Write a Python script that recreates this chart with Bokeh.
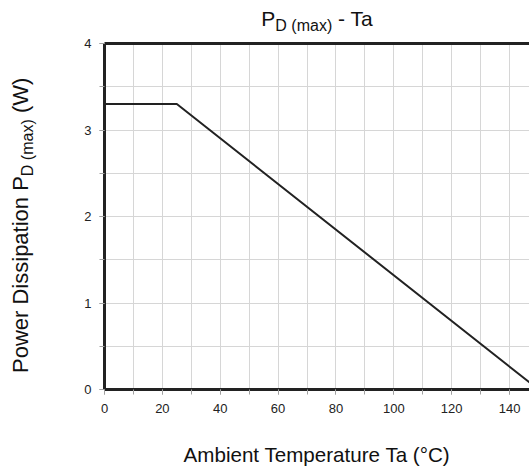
from bokeh.plotting import figure
from bokeh.models import Range1d, FixedTicker, LinearAxis, Div
from bokeh.layouts import column, row
from bokeh.embed import file_html
from bokeh.resources import INLINE

# ---- data ----
temp_c = [0, 25, 150]
pd_max_w = [3.3, 3.3, 0.0]
x_major = [0, 20, 40, 60, 80, 100, 120, 140]
x_minor = [0, 10, 20, 30, 40, 50, 60, 70, 80, 90, 100, 110, 120, 130, 140, 150]
y_major = [0, 1, 2, 3, 4]
y_minor = [0, 0.5, 1, 1.5, 2, 2.5, 3, 3.5, 4]
title_main, title_sub, title_tail = "P", "D (max)", " - Ta"
ylab_main, ylab_sub, ylab_tail = "Power Dissipation P", "D (max)", " (W)"
xlab = "Ambient Temperature Ta (°C)"

FONT = "Liberation Sans"
GRID = "#d6d6d6"
TICK = "#a0a0a0"
BORDER = "#222222"
TXT = "#111111"

TOP_H = 34
FIG_H = 434

p = figure(width=485, height=FIG_H, x_range=Range1d(0, 146.9), y_range=Range1d(0, 4),
           output_backend="svg", toolbar_location=None, margin=(0, 0, 0, 0),
           min_border_left=60, min_border_right=0, min_border_top=9, min_border_bottom=79)
p.outline_line_color = None

p.xaxis.ticker = FixedTicker(ticks=x_major, minor_ticks=x_minor)
p.yaxis.ticker = FixedTicker(ticks=y_major, minor_ticks=y_minor)
for ax in (p.xaxis[0], p.yaxis[0]):
    ax.axis_line_color = BORDER
    ax.axis_line_width = 3
    ax.major_tick_line_color = TICK
    ax.minor_tick_line_color = TICK
    ax.major_tick_in = 0
    ax.major_tick_out = 5
    ax.minor_tick_in = 0
    ax.minor_tick_out = 5
    ax.major_label_text_font = FONT
    ax.major_label_text_font_size = "13px"
    ax.major_label_text_color = "#222222"
p.xaxis.major_label_standoff = 9
p.yaxis.major_label_standoff = 8
p.xaxis.axis_label = xlab
p.xaxis.axis_label_text_font = FONT
p.xaxis.axis_label_text_font_size = "20.6px"
p.xaxis.axis_label_text_font_style = "normal"
p.xaxis.axis_label_text_color = TXT
p.xaxis.axis_label_standoff = 27

top = LinearAxis(ticker=FixedTicker(ticks=[]), major_label_text_font_size="0px",
                 major_label_standoff=0, major_tick_out=0, major_tick_in=0,
                 axis_line_color=BORDER, axis_line_width=3,
                 major_tick_line_color=None, minor_tick_line_color=None)
p.add_layout(top, "above")

p.xgrid.ticker = FixedTicker(ticks=x_major, minor_ticks=x_minor)
p.ygrid.ticker = FixedTicker(ticks=y_major, minor_ticks=y_minor)
for g in (p.xgrid[0], p.ygrid[0]):
    g.grid_line_color = GRID
    g.grid_line_width = 1
    g.minor_grid_line_color = GRID
    g.minor_grid_line_width = 1

p.line(temp_c, pd_max_w, line_color="#222222", line_width=2)


def css(size):
    return (f"font-family:'{FONT}'; font-size:{size}px; line-height:24px; color:{TXT}; "
            "white-space:nowrap; margin:0;")


def sub_css(size):
    return f"font-size:{size}px; line-height:0;"


title_div = Div(width=529, height=TOP_H, margin=(0, 0, 0, 0), styles={"overflow": "visible"}, text=(
    f'<div style="{css(21)} box-sizing:border-box; width:529px; padding-left:105px; '
    f'padding-top:7px; text-align:center;">{title_main}<sub style="{sub_css(16)}">{title_sub}</sub>'
    f'{title_tail}</div>'))

ylab_div = Div(width=44, height=FIG_H, margin=(0, 0, 0, 0), styles={"overflow": "visible"}, text=(
    f'<div style="{css(22)} transform-origin:0 0; transform:translate(9px,{373 - TOP_H}px) rotate(-90deg);">'
    f'{ylab_main}<sub style="{sub_css(16)}">{ylab_sub}</sub>{ylab_tail}</div>'))

layout = column(title_div, row(ylab_div, p, spacing=0, margin=(0, 0, 0, 0)),
                spacing=0, margin=(0, 0, 0, 0))

open("out.html", "w").write(file_html(layout, INLINE))
